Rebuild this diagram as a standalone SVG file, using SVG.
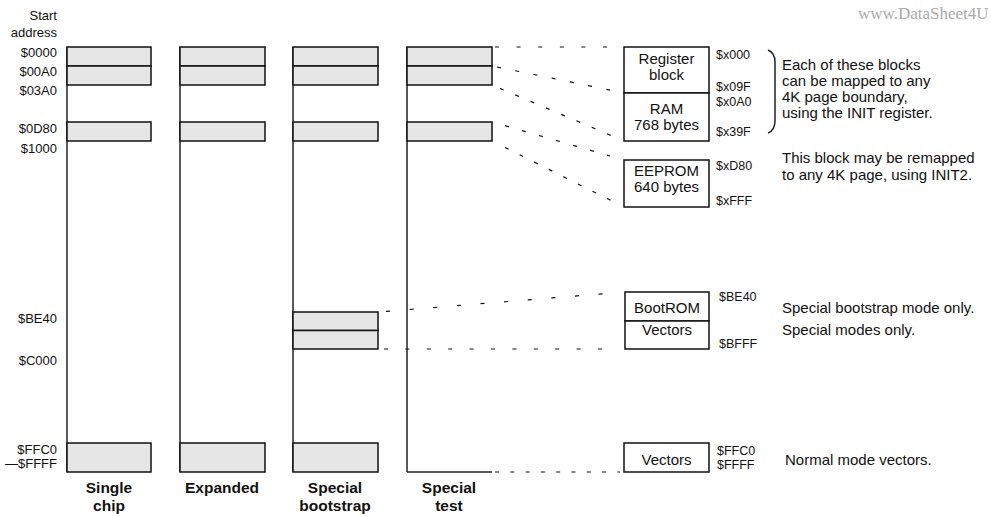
<svg xmlns="http://www.w3.org/2000/svg" width="991" height="517" viewBox="0 0 991 517">
<style>
  .blk { fill: #e6e6e6; stroke: #111; stroke-width: 1.5; }
  .box { fill: #fff; stroke: #111; stroke-width: 1.5; }
  .vl { stroke: #222; stroke-width: 1.5; fill: none; }
  .dash { stroke: #111; stroke-width: 1.2; fill: none; }
  .t { font-family: "Liberation Sans", Arial, sans-serif; fill: #111; }
  .addr { font-size: 13px; text-anchor: end; }
  .raddr { font-size: 12.5px; }
  .bx { font-size: 15px; text-anchor: middle; }
  .desc { font-size: 15px; }
  .lab { font-size: 15.5px; font-weight: bold; text-anchor: middle; }
</style>
<rect width="991" height="517" fill="#fff"/>

<text x="858" y="19" font-family="Liberation Serif, 'Times New Roman', serif" font-size="17" fill="#aaaaaa">www.DataSheet4U</text>

<g id="address-labels" class="t addr">
  <text x="57" y="20">Start</text>
  <text x="57" y="37">address</text>
  <text x="57" y="57">$0000</text>
  <text x="57" y="76">$00A0</text>
  <text x="57" y="95">$03A0</text>
  <text x="57" y="133">$0D80</text>
  <text x="57" y="153">$1000</text>
  <text x="57" y="323">$BE40</text>
  <text x="57" y="365">$C000</text>
  <text x="57" y="453.5">$FFC0</text>
  <text x="57" y="468">—$FFFF</text>
</g>

<g id="col-single-chip">
  <line class="vl" x1="67" y1="47" x2="67" y2="472"/>
  <rect class="blk" x="67" y="47" width="84" height="19"/>
  <rect class="blk" x="67" y="66" width="84" height="19"/>
  <rect class="blk" x="67" y="122" width="84" height="19"/>
  <rect class="blk" x="67" y="443" width="84" height="29"/>
  <text class="t lab" x="109" y="493">Single</text>
  <text class="t lab" x="109" y="511">chip</text>
</g>

<g id="col-expanded">
  <line class="vl" x1="180" y1="47" x2="180" y2="472"/>
  <rect class="blk" x="180" y="47" width="85" height="19"/>
  <rect class="blk" x="180" y="66" width="85" height="19"/>
  <rect class="blk" x="180" y="122" width="85" height="19"/>
  <rect class="blk" x="180" y="443" width="85" height="29"/>
  <text class="t lab" x="222" y="493">Expanded</text>
</g>

<g id="col-special-bootstrap">
  <line class="vl" x1="293" y1="47" x2="293" y2="472"/>
  <rect class="blk" x="293" y="47" width="85" height="19"/>
  <rect class="blk" x="293" y="66" width="85" height="19"/>
  <rect class="blk" x="293" y="122" width="85" height="19"/>
  <rect class="blk" x="293" y="312" width="85" height="18.5"/>
  <rect class="blk" x="293" y="330.5" width="85" height="18.5"/>
  <rect class="blk" x="293" y="443" width="85" height="29"/>
  <text class="t lab" x="335" y="493">Special</text>
  <text class="t lab" x="335" y="511">bootstrap</text>
</g>

<g id="col-special-test">
  <line class="vl" x1="407" y1="47" x2="407" y2="472"/>
  <line class="vl" x1="407" y1="472" x2="492" y2="472"/>
  <rect class="blk" x="407" y="47" width="85" height="19"/>
  <rect class="blk" x="407" y="66" width="85" height="19"/>
  <rect class="blk" x="407" y="122" width="85" height="19"/>
  <text class="t lab" x="449" y="493">Special</text>
  <text class="t lab" x="449" y="511">test</text>
</g>

<g id="connectors">
  <line class="dash" x1="495" y1="47" x2="607" y2="47" stroke-dasharray="4 17.6"/>
  <line class="dash" x1="497" y1="67" x2="610" y2="90.1" stroke-dasharray="4 14.6"/>
  <line class="dash" x1="500" y1="88.4" x2="612" y2="135.9" stroke-dasharray="4 12.6"/>
  <line class="dash" x1="505" y1="125.7" x2="610" y2="156" stroke-dasharray="4 13.7"/>
  <line class="dash" x1="505" y1="147.5" x2="612" y2="201" stroke-dasharray="4 12.3"/>
  <line class="dash" x1="386" y1="311.4" x2="605" y2="293.6" stroke-dasharray="4 19.7"/>
  <line class="dash" x1="384" y1="349" x2="606" y2="349" stroke-dasharray="4 17.4"/>
  <line class="dash" x1="495" y1="472" x2="620" y2="472" stroke-dasharray="4 11.3"/>
</g>

<g id="node-register-ram">
  <rect class="box" x="624" y="47" width="85" height="46"/>
  <rect class="box" x="624" y="93" width="85" height="48"/>
  <text class="t bx" x="666.5" y="64">Register</text>
  <text class="t bx" x="666.5" y="80">block</text>
  <text class="t bx" x="666.5" y="114">RAM</text>
  <text class="t bx" x="666.5" y="130">768 bytes</text>
  <text class="t raddr" x="716" y="59">$x000</text>
  <text class="t raddr" x="716" y="91">$x09F</text>
  <text class="t raddr" x="716" y="106">$x0A0</text>
  <text class="t raddr" x="716" y="136">$x39F</text>
  <path class="vl" d="M768,50 Q775,53 775,62 L775,121 Q775,130 768,133" stroke-width="1.2"/>
  <g class="t desc">
    <text x="782" y="70">Each of these blocks</text>
    <text x="782" y="86">can be mapped to any</text>
    <text x="782" y="102">4K page boundary,</text>
    <text x="782" y="118">using the INIT register.</text>
  </g>
</g>

<g id="node-eeprom">
  <rect class="box" x="624" y="160" width="85" height="47"/>
  <text class="t bx" x="666.5" y="176">EEPROM</text>
  <text class="t bx" x="666.5" y="192">640 bytes</text>
  <text class="t raddr" x="716" y="170">$xD80</text>
  <text class="t raddr" x="716" y="205">$xFFF</text>
  <g class="t desc">
    <text x="782" y="163">This block may be remapped</text>
    <text x="782" y="180">to any 4K page, using INIT2.</text>
  </g>
</g>

<g id="node-bootrom">
  <rect class="box" x="625" y="292" width="84" height="29"/>
  <rect class="box" x="625" y="321" width="84" height="28"/>
  <text class="t bx" x="667" y="313">BootROM</text>
  <text class="t bx" x="667" y="335">Vectors</text>
  <text class="t raddr" x="719" y="301">$BE40</text>
  <text class="t raddr" x="719" y="348">$BFFF</text>
  <text class="t desc" x="782" y="313">Special bootstrap mode only.</text>
  <text class="t desc" x="782" y="335">Special modes only.</text>
</g>

<g id="node-vectors">
  <rect class="box" x="624" y="443" width="85" height="29"/>
  <text class="t bx" x="666.5" y="465">Vectors</text>
  <text class="t raddr" x="717" y="454.5">$FFC0</text>
  <text class="t raddr" x="717" y="468.5">$FFFF</text>
  <text class="t desc" x="785" y="465">Normal mode vectors.</text>
</g>
</svg>
